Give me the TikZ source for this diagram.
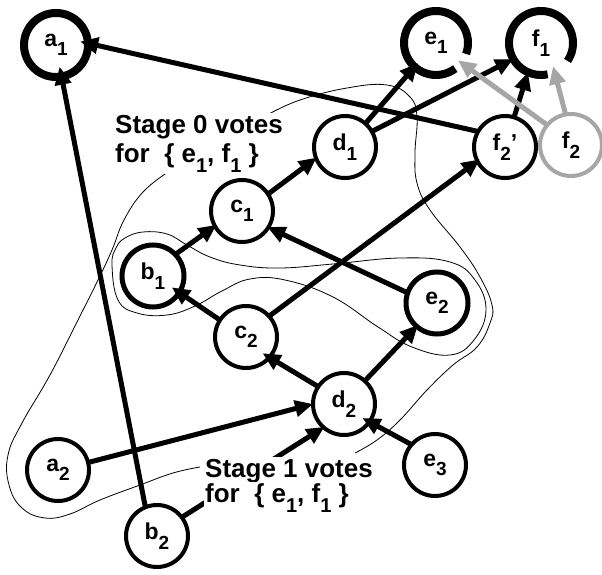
\documentclass[tikz,border=0pt]{standalone}
\usepackage{fontspec}
\setmainfont{Liberation Sans}
\usetikzlibrary{arrows.meta}

% vertex labels: letter with a large, deeply lowered index
\newcommand\vxfont{\fontsize{23}{23}\selectfont\bfseries}
\newcommand\vxsub{\fontsize{19}{19}\selectfont\bfseries}
\newcommand\nlab[2]{#1\raisebox{-9.5pt}{\vxsub #2}}
% caption text and its indices
\newcommand\vtfont{\fontsize{26}{26}\selectfont\bfseries}
\newcommand\slab[2]{#1\raisebox{-10pt}{\fontsize{20}{20}\selectfont\bfseries #2}}

\begin{document}
\begin{tikzpicture}[x=1pt,y=1pt,
  vertex/.style={circle, draw, line width=4pt, minimum size=62pt, inner sep=0pt,
                 outer sep=0pt, fill=white, font=\vxfont},
  boldvertex/.style={vertex, line width=5pt},
  heavy/.style={vertex, line width=8pt, minimum size=64pt},
  opening/.style={vertex, draw=none, minimum size=64pt},
  ghost/.style={vertex, draw=black!35, fill=none},
  link/.style={line width=5pt, -{Triangle[length=18pt,width=16pt]}},
  ghostlink/.style={link, color=black!35},
  contour/.style={line width=0.8pt},
  votes/.style={font=\vtfont, fill=white, inner sep=1.5pt}
]
\useasboundingbox (0,0) rectangle (602,-575);

% region boundaries
\draw[contour] plot[smooth, tension=0.7] coordinates {
  (267,-115) (300,-100) (347,-88) (387,-85) (410,-97) (417,-117) (415,-153)
  (417,-183) (430,-210) (460,-247) (480,-277) (492,-305) (490,-323) (477,-347)
  (453,-365) (427,-390) (400,-420) (377,-440) (355,-453)};
\draw[contour] plot[smooth, tension=0.7] coordinates {
  (168,-172) (143,-192) (124,-220) (112,-250) (98,-280) (78,-320) (50,-375)
  (22,-423) (8,-455) (9,-485) (22,-508) (45,-518) (70,-514) (100,-500)
  (140,-485) (173,-473) (200,-467)};
\draw[contour] plot[smooth cycle, tension=0.7] coordinates {
  (112,-265) (116,-248) (125,-238) (143,-232) (167,-234) (187,-245) (210,-257)
  (240,-265) (280,-268) (333,-264) (400,-258) (450,-262) (475,-280) (486,-310)
  (474,-340) (450,-355) (412,-347) (378,-327) (333,-297) (285,-280) (250,-279)
  (222,-291) (195,-306) (167,-315) (137,-313) (118,-300)};

% vertices
\node[heavy] (a1) at (56,-45) {\nlab{a}{1}};
\node[opening] (e1) at (436,-43) {\nlab{e}{1}};
\node[opening] (f1) at (541,-43) {\nlab{f}{1}};
\draw[line width=8pt] (e1.-20) arc[start angle=-20, end angle=307, radius=32pt];
\draw[line width=8pt] (f1.-34) arc[start angle=-34, end angle=282, radius=32pt];
\node[vertex] (d1) at (345,-147) {\nlab{d}{1}};
\node[vertex] (f2p) at (505,-147) {f\raisebox{-9.5pt}{\vxsub 2}'};
\node[ghost] (f2) at (571,-145) {\nlab{f}{2}};
\node[vertex] (c1) at (242,-211) {\nlab{c}{1}};
\node[boldvertex] (b1) at (153,-276) {\nlab{b}{1}};
\node[vertex] (c2) at (246,-337) {\nlab{c}{2}};
\node[boldvertex] (e2) at (437,-303) {\nlab{e}{2}};
\node[vertex] (d2) at (344,-404) {\nlab{d}{2}};
\node[vertex] (a2) at (58,-470) {\nlab{a}{2}};
\node[vertex] (e3) at (435,-465) {\nlab{e}{3}};
\node[vertex] (b2) at (157,-536) {\nlab{b}{2}};

% votes
\draw[link, shorten >=-8pt] (f2p.150) -- (a1.3);
\draw[link, shorten >=-10pt] (b2.112) -- (a1.-80);
\draw[link, shorten >=-1pt] (b2.37) -- (d2.229);
\draw[link] (a2.14) -- (d2.180);
\draw[link, shorten >=-8pt] (e3.139) -- (d2.-35);
\draw[link, shorten >=-8pt] (d2.146) -- (c2.-41);
\draw[link, shorten >=-2pt] (d2.48) -- (e2.229);
\draw[link, shorten >=-9pt] (c2.147) -- (b1.-32);
\draw[link, shorten >=-3pt] (c2.42) -- (f2p.207);
\draw[link, shorten >=-1pt] (e2.161) -- (c1.-32);
\draw[link, shorten >=-2pt] (b1.44) -- (c1.209);
\draw[link, shorten >=-1pt] (c1.33) -- (d1.201);
\draw[link, shorten >=-5pt] (d1.49) -- (e1.228);
\draw[link] (d1.30) -- (f1.210);
\draw[link] (f2p.73) -- (f1.246);
\draw[ghostlink, shorten >=-4pt] (f2.140) -- (e1.-38);
\draw[ghostlink, shorten >=-6pt] (f2.100) -- (f1.-65);

% captions
\node[votes, anchor=base west] (s0top) at (113.5,-133) {Stage 0 votes};
\node[votes, anchor=base west] (s0bot) at (113.5,-162) {for\ \ \{ \slab{e}{1}, \slab{f}{1} \}};
\node[votes, anchor=base west] (s1top) at (203.5,-477) {Stage 1 votes};
\node[votes, anchor=base west] (s1bot) at (203.5,-502) {for\ \ \{ \slab{e}{1}, \slab{f}{1} \}};
\end{tikzpicture}
\end{document}
